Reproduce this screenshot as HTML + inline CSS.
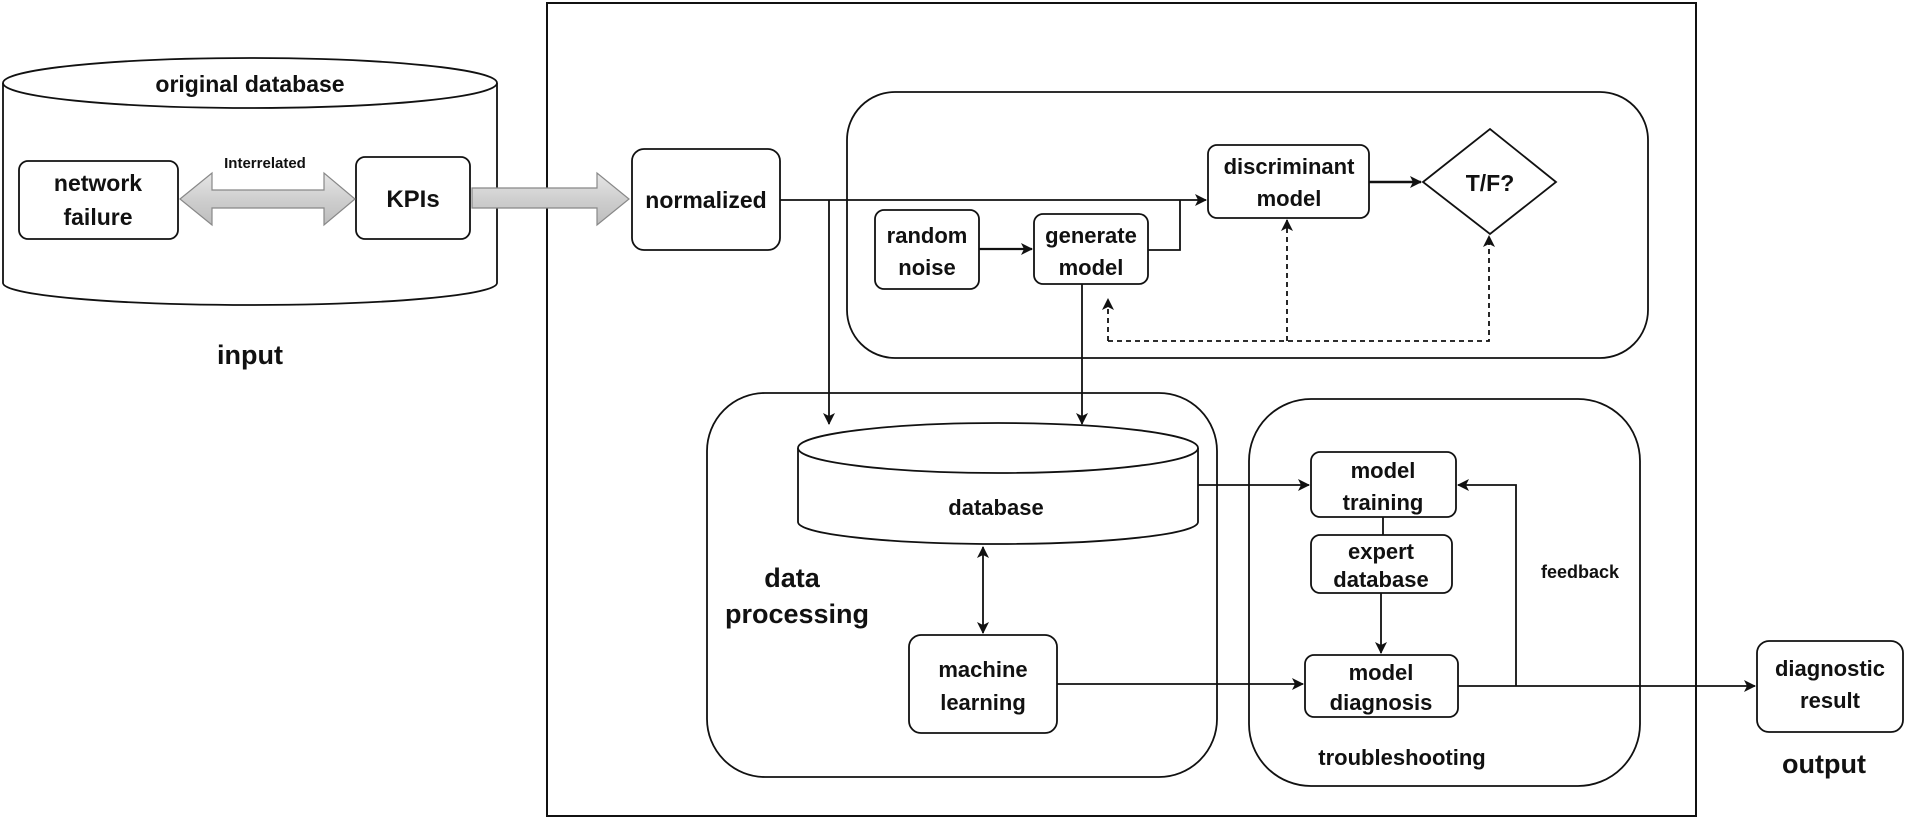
<!DOCTYPE html>
<html><head><style>
html,body{margin:0;padding:0;background:#fff;}
svg{display:block;}
text{font-family:"Liberation Sans",Arial,sans-serif;font-weight:bold;fill:#111;text-anchor:middle;}
</style></head><body>
<svg width="1905" height="818" viewBox="0 0 1905 818" xmlns="http://www.w3.org/2000/svg">
<defs>
<marker id="ah" markerWidth="12" markerHeight="12" refX="11" refY="6" orient="auto" markerUnits="userSpaceOnUse">
<path d="M0,0 L12,6 L0,12 L3,6 Z" fill="#111"/></marker>
<marker id="ahs" markerWidth="12" markerHeight="12" refX="1" refY="6" orient="auto" markerUnits="userSpaceOnUse">
<path d="M12,0 L0,6 L12,12 L9,6 Z" fill="#111"/></marker>
<linearGradient id="g" x1="0" y1="0" x2="0" y2="1">
<stop offset="0" stop-color="#e6e6e6"/><stop offset="0.5" stop-color="#cfcfcf"/><stop offset="1" stop-color="#bdbdbd"/></linearGradient>
</defs>
<g fill="none" stroke="#111" stroke-width="1.8">
<path d="M3,83 L3,283 A247,22 0 0 0 497,283 L497,83" fill="#fff"/>
<ellipse cx="250" cy="83" rx="247" ry="25" fill="#fff"/>
<rect x="19" y="161" width="159" height="78" rx="9" fill="#fff"/>
<rect x="356" y="157" width="114" height="82" rx="9" fill="#fff"/>
<rect x="547" y="3" width="1149" height="813" stroke-width="2"/>
<rect x="632" y="149" width="148" height="101" rx="12" fill="#fff"/>
<rect x="847" y="92" width="801" height="266" rx="48"/>
<rect x="1208" y="145" width="161" height="73" rx="9" fill="#fff"/>
<path d="M1423,182 L1490,129 L1556,182 L1490,234 Z" fill="#fff"/>
<rect x="875" y="210" width="104" height="79" rx="9" fill="#fff"/>
<rect x="1034" y="214" width="114" height="70" rx="9" fill="#fff"/>
<rect x="707" y="393" width="510" height="384" rx="58"/>
<path d="M798,448 L798,522 A200,22 0 0 0 1198,522 L1198,448" fill="#fff"/>
<ellipse cx="998" cy="448" rx="200" ry="25" fill="#fff"/>
<rect x="909" y="635" width="148" height="98" rx="12" fill="#fff"/>
<rect x="1249" y="399" width="391" height="387" rx="62"/>
<rect x="1311" y="452" width="145" height="65" rx="9" fill="#fff"/>
<rect x="1311" y="535" width="141" height="58" rx="9" fill="#fff"/>
<rect x="1305" y="655" width="153" height="62" rx="9" fill="#fff"/>
<rect x="1757" y="641" width="146" height="91" rx="12" fill="#fff"/>
<path d="M780,200 L1206,200" marker-end="url(#ah)"/>
<path d="M1369,182 L1421,182" marker-end="url(#ah)" stroke-width="2.5"/>
<path d="M979,249 L1032,249" marker-end="url(#ah)" stroke-width="2.2"/>
<path d="M1148,250 L1180,250 L1180,200"/>
<path d="M829,200 L829,424" marker-end="url(#ah)"/>
<path d="M1082,284 L1082,424" marker-end="url(#ah)"/>
<path d="M1108,341 L1489,341 L1489,236" stroke-dasharray="5,4" marker-end="url(#ah)"/>
<path d="M1108,341 L1108,299" stroke-dasharray="5,4" marker-end="url(#ah)"/>
<path d="M1287,341 L1287,220" stroke-dasharray="5,4" marker-end="url(#ah)"/>
<path d="M983,547 L983,633" marker-start="url(#ahs)" marker-end="url(#ah)"/>
<path d="M1057,684 L1303,684" marker-end="url(#ah)"/>
<path d="M1198,485 L1309,485" marker-end="url(#ah)"/>
<path d="M1383,517 L1383,535"/>
<path d="M1381,593 L1381,653" marker-end="url(#ah)"/>
<path d="M1458,686 L1755,686" marker-end="url(#ah)"/>
<path d="M1516,686 L1516,485 L1458,485" marker-end="url(#ah)"/>
</g>
<path d="M180,199 L212,173 L212,190 L324,190 L324,173 L355,199 L324,225 L324,208 L212,208 L212,225 Z" fill="url(#g)" stroke="#888" stroke-width="1.2"/>
<path d="M472,188 L597,188 L597,173 L629,199 L597,225 L597,208 L472,208 Z" fill="url(#g)" stroke="#888" stroke-width="1.2"/>
<text x="250" y="92" font-size="23">original database</text>
<text x="265" y="168" font-size="15" font-weight="normal">Interrelated</text>
<text x="98" y="191" font-size="23">network</text>
<text x="98" y="225" font-size="23">failure</text>
<text x="413" y="207" font-size="24">KPIs</text>
<text x="250" y="364" font-size="27">input</text>
<text x="706" y="208" font-size="23">normalized</text>
<text x="1289" y="174" font-size="22">discriminant</text>
<text x="1289" y="206" font-size="22">model</text>
<text x="1490" y="191" font-size="23">T/F?</text>
<text x="927" y="243" font-size="22">random</text>
<text x="927" y="275" font-size="22">noise</text>
<text x="1091" y="243" font-size="22">generate</text>
<text x="1091" y="275" font-size="22">model</text>
<text x="996" y="515" font-size="22">database</text>
<text x="792" y="587" font-size="27">data</text>
<text x="797" y="623" font-size="27">processing</text>
<text x="983" y="677" font-size="22">machine</text>
<text x="983" y="710" font-size="22">learning</text>
<text x="1383" y="478" font-size="22">model</text>
<text x="1383" y="510" font-size="22">training</text>
<text x="1381" y="559" font-size="22">expert</text>
<text x="1381" y="587" font-size="22">database</text>
<text x="1381" y="680" font-size="22">model</text>
<text x="1381" y="710" font-size="22">diagnosis</text>
<text x="1580" y="578" font-size="18">feedback</text>
<text x="1402" y="765" font-size="22">troubleshooting</text>
<text x="1830" y="676" font-size="22">diagnostic</text>
<text x="1830" y="708" font-size="22">result</text>
<text x="1824" y="773" font-size="27">output</text>
</svg>
</body></html>
